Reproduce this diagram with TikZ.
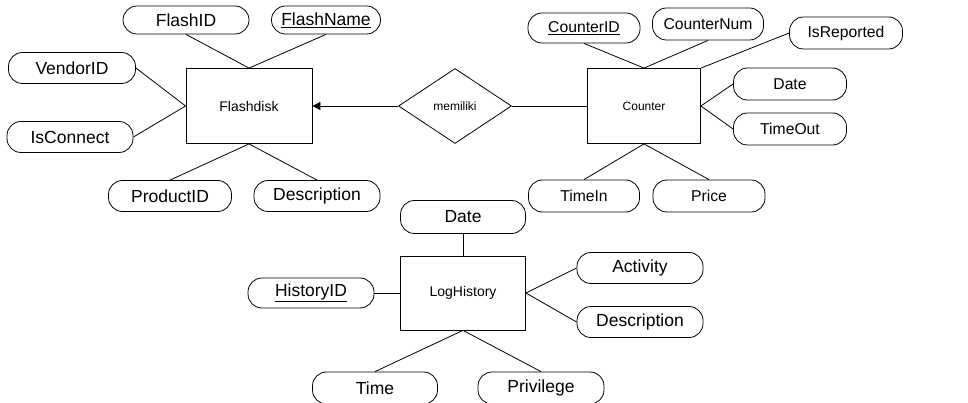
\documentclass[tikz,border=0pt]{standalone}
\usepackage{fontspec}
\setmainfont{Liberation Sans}
\usetikzlibrary{shapes.geometric,arrows.meta}
\begin{document}
\begin{tikzpicture}[x=1pt,y=-1pt,
  every path/.style={line width=0.8pt},
  attr/.style={draw, rounded corners=14pt, minimum height=31pt, inner sep=0pt,
    font=\fontsize{17.5}{20}\selectfont},
  cattr/.style={attr, font=\fontsize{15.7}{18}\selectfont},
  entity/.style={draw, rectangle, inner sep=0pt},
  rel/.style={draw, diamond, shape aspect=1.5, inner sep=0pt,
    font=\fontsize{12}{14}\selectfont},
  link/.style={draw, line width=0.8pt}
]
\useasboundingbox (0,0) rectangle (968,403);
\fill[white] (0,0) rectangle (968,403);

% Flashdisk entity and its attributes
\node[entity, minimum width=126pt, minimum height=75pt,
  font=\fontsize{14}{16}\selectfont] (flash) at (249,106) {Flashdisk};
\node[attr, minimum width=126pt, minimum height=28pt] (fid) at (186,20) {FlashID};
\node[attr, minimum width=109pt, minimum height=28pt] (fname) at (326,20) {\underline{FlashName}};
\node[attr, minimum width=127pt] (vendor) at (72,68) {VendorID};
\node[attr, minimum width=126pt] (conn) at (70,137) {IsConnect};
\node[attr, minimum width=123pt] (prod) at (170,196) {ProductID};
\node[attr, minimum width=126pt] (fdesc) at (317,196) {Description};

\draw[link] (fid.south) -- (flash.north);
\draw[link] (fname.south) -- (flash.north);
\draw[link] (vendor.east) -- (flash.west);
\draw[link] (conn.east) -- (flash.west);
\draw[link] (prod.north) -- (flash.south);
\draw[link] (fdesc.north) -- (flash.south);

% Relationship
\node[rel, minimum width=113pt, minimum height=75pt] (mem) at (455,106) {memiliki};
\draw[link, -{Triangle[length=8pt,width=8pt]}] (mem.west) -- (flash.east);

% Counter entity and its attributes
\node[entity, minimum width=113pt, minimum height=75pt,
  font=\fontsize{12}{14}\selectfont] (counter) at (644,106) {Counter};
\draw[link] (mem.east) -- (counter.west);
\node[cattr, minimum width=112pt, minimum height=30pt] (cid) at (584,28) {\underline{CounterID}};
\node[cattr, minimum width=111pt, minimum height=32pt] (cnum) at (708,24) {CounterNum};
\node[cattr, minimum width=113pt, minimum height=32pt] (rep) at (846,33) {IsReported};
\node[cattr, minimum width=113pt, minimum height=32pt] (cdate) at (790,84) {Date};
\node[cattr, minimum width=113pt, minimum height=32pt] (tout) at (790,129) {TimeOut};
\node[cattr, minimum width=111pt, minimum height=32pt] (tin) at (584,196) {TimeIn};
\node[cattr, minimum width=112pt, minimum height=32pt] (price) at (709,196) {Price};

\draw[link] (cid.south) -- (counter.north);
\draw[link] (cnum.south) -- (counter.north);
\draw[link] (rep.west) -- (counter.north east);
\draw[link] (cdate.west) -- (counter.east);
\draw[link] (tout.west) -- (counter.east);
\draw[link] (tin.north) -- (counter.south);
\draw[link] (price.north) -- (counter.south);

% LogHistory entity and its attributes
\node[entity, minimum width=125pt, minimum height=74pt,
  font=\fontsize{14}{16}\selectfont] (log) at (463,293) {LogHistory};
\node[attr, minimum width=125pt, minimum height=33pt] (ldate) at (463,217) {Date};
\node[attr, minimum width=126pt, minimum height=30pt] (hid) at (311,293) {\underline{HistoryID}};
\node[attr, minimum width=126pt] (act) at (640,268) {Activity};
\node[attr, minimum width=126pt] (ldesc) at (640,322) {Description};
\node[attr, minimum width=125pt, minimum height=32pt] (time) at (375,388) {Time};
\node[attr, minimum width=126pt, minimum height=32pt] (priv) at (541,388) {Privilege};

\draw[link] (ldate.south) -- (log.north);
\draw[link] (hid.east) -- (log.west);
\draw[link] (act.west) -- (log.east);
\draw[link] (ldesc.west) -- (log.east);
\draw[link] (time.north) -- (log.south);
\draw[link] (priv.north) -- (log.south);
\end{tikzpicture}
\end{document}
